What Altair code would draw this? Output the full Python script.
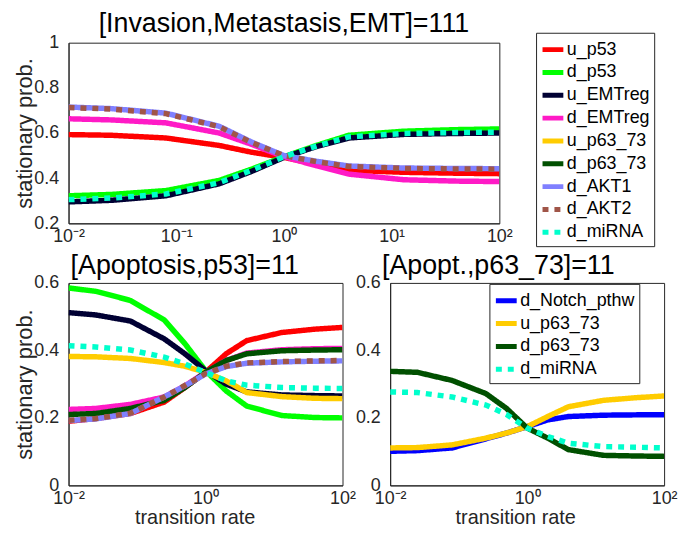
import altair as alt
import pandas as pd

X = [0.01, 0.025, 0.08, 0.25, 0.5, 1, 2, 4, 13, 40, 100]

# top panel: [Invasion,Metastasis,EMT]=111
top_u_p53 = [0.593, 0.590, 0.578, 0.545, 0.515, 0.492, 0.462, 0.435, 0.426, 0.422, 0.420]
top_d_p53 = [0.322, 0.328, 0.345, 0.390, 0.440, 0.495, 0.545, 0.590, 0.608, 0.615, 0.618]
top_u_EMTreg = [0.295, 0.302, 0.322, 0.375, 0.430, 0.492, 0.540, 0.578, 0.594, 0.598, 0.600]
top_d_EMTreg = [0.663, 0.658, 0.645, 0.600, 0.550, 0.495, 0.455, 0.418, 0.393, 0.387, 0.385]
top_d_AKT1 = [0.715, 0.708, 0.688, 0.630, 0.560, 0.500, 0.475, 0.454, 0.445, 0.443, 0.442]
top_d_AKT2 = [0.713, 0.706, 0.686, 0.628, 0.558, 0.500, 0.473, 0.452, 0.443, 0.441, 0.440]
top_d_miRNA = [0.305, 0.312, 0.330, 0.380, 0.435, 0.495, 0.542, 0.583, 0.598, 0.602, 0.604]

# bottom left: [Apoptosis,p53]=11
bl_u_p53 = [0.190, 0.198, 0.213, 0.247, 0.290, 0.335, 0.390, 0.429, 0.453, 0.463, 0.468]
bl_d_p53 = [0.585, 0.575, 0.548, 0.490, 0.420, 0.340, 0.280, 0.235, 0.207, 0.201, 0.200]
bl_u_EMTreg = [0.512, 0.505, 0.487, 0.434, 0.390, 0.340, 0.300, 0.277, 0.268, 0.266, 0.265]
bl_d_EMTreg = [0.225, 0.228, 0.240, 0.262, 0.295, 0.335, 0.370, 0.392, 0.402, 0.405, 0.406]
bl_u_p63_73 = [0.382, 0.381, 0.376, 0.364, 0.353, 0.335, 0.310, 0.275, 0.263, 0.258, 0.257]
bl_d_p63_73 = [0.210, 0.213, 0.228, 0.252, 0.290, 0.335, 0.370, 0.390, 0.399, 0.401, 0.402]
bl_d_AKT1 = [0.192, 0.197, 0.213, 0.262, 0.295, 0.330, 0.352, 0.362, 0.366, 0.368, 0.369]
bl_d_AKT2 = [0.193, 0.198, 0.214, 0.262, 0.296, 0.331, 0.353, 0.363, 0.367, 0.369, 0.370]
bl_d_miRNA = [0.414, 0.410, 0.401, 0.380, 0.360, 0.335, 0.310, 0.297, 0.290, 0.288, 0.287]

# bottom right: [Apopt.,p63_73]=11
br_d_Notch_pthw = [0.101, 0.103, 0.111, 0.138, 0.155, 0.174, 0.194, 0.204, 0.208, 0.209, 0.209]
br_u_p63_73 = [0.111, 0.112, 0.120, 0.140, 0.155, 0.174, 0.204, 0.233, 0.252, 0.260, 0.265]
br_d_p63_73 = [0.338, 0.335, 0.311, 0.272, 0.228, 0.170, 0.140, 0.106, 0.089, 0.087, 0.086]
br_d_miRNA = [0.277, 0.275, 0.262, 0.238, 0.210, 0.170, 0.145, 0.125, 0.115, 0.113, 0.111]

COLOR = {
    "u_p53": "#ff0000", "d_p53": "#00ff00", "u_EMTreg": "#000033",
    "d_EMTreg": "#ff1ac6", "u_p63_73": "#ffcc00", "d_p63_73": "#005000",
    "d_AKT1": "#8080ff", "d_AKT2": "#a05548", "d_miRNA": "#00ffcc",
    "d_Notch_pthw": "#0000ff",
}
DOT = [6, 6]
SOLID = [1, 0]
DASH = {n: SOLID for n in COLOR}
DASH["d_AKT2"] = DOT
DASH["d_miRNA"] = DOT

FONT = "Liberation Sans"
XLABEL = ("round(log(datum.value)/LN10) == -2 ? '10⁻²' : round(log(datum.value)/LN10) == -1 ? '10⁻¹' : "
          "round(log(datum.value)/LN10) == 0 ? '10⁰' : round(log(datum.value)/LN10) == 1 ? '10¹' : '10²'")


def long_df(series):
    rows = []
    for name, vals in series.items():
        for i, (x, y) in enumerate(zip(X, vals)):
            rows.append({"series": name, "x": x, "y": y, "k": i})
    return pd.DataFrame(rows)


def panel(series, names, title, ydom, yticks, xticks, w, h, xtitle, ytitle, legend, title_dx=0, xtitle_x=None):
    df = long_df(series)
    colors = [COLOR[n] for n in names]
    dashes = [DASH[n] for n in names]
    xaxis_kw = dict(values=xticks, labelExpr=XLABEL, title=xtitle, labelFlush=False, labelOverlap=False)
    if xtitle_x is not None:
        xaxis_kw["titleX"] = xtitle_x
    layers = []
    for n in series:
        layers.append(
            alt.Chart(df).transform_filter(alt.datum.series == n).mark_line(
                strokeWidth=5.5, strokeCap="butt", clip=True
            ).encode(
                x=alt.X("x:Q", scale=alt.Scale(type="log", domain=[0.01, 100], nice=False),
                        axis=alt.Axis(**xaxis_kw), title=xtitle),
                y=alt.Y("y:Q", scale=alt.Scale(domain=ydom, nice=False, zero=False),
                        axis=alt.Axis(values=yticks, format=".1~f", title=ytitle), title=ytitle),
                color=alt.Color("series:N", scale=alt.Scale(domain=names, range=colors), legend=legend),
                strokeDash=alt.StrokeDash("series:N", scale=alt.Scale(domain=names, range=dashes), legend=legend),
                order=alt.Order("k:Q"),
            )
        )
    t = alt.TitleParams(title, fontSize=27, font=FONT, fontWeight="normal", color="black",
                        offset=-6, anchor="middle", dx=title_dx, frame="group")
    return alt.layer(*layers).properties(width=w, height=h, title=t)


def make_legend(lx, ly):
    return alt.Legend(orient="none", legendX=lx, legendY=ly, title=None, symbolType="stroke",
                      symbolSize=440, symbolStrokeWidth=5, labelFontSize=18,
                      labelFont=FONT, labelColor="black", strokeColor="#262626", fillColor="white",
                      padding=4, rowPadding=0, labelOffset=1, titlePadding=0)


top_names = ["u_p53", "d_p53", "u_EMTreg", "d_EMTreg", "u_p63_73", "d_p63_73", "d_AKT1", "d_AKT2", "d_miRNA"]
top_series = {
    "u_p53": top_u_p53, "d_p53": top_d_p53, "u_EMTreg": top_u_EMTreg, "d_EMTreg": top_d_EMTreg,
    "d_AKT1": top_d_AKT1, "d_AKT2": top_d_AKT2, "d_miRNA": top_d_miRNA,
}
top = panel(top_series, top_names, "[Invasion,Metastasis,EMT]=111", [0.2, 1], [0.2, 0.4, 0.6, 0.8, 1],
            [0.01, 0.1, 1, 10, 100], 434, 182, None, "stationary prob.", make_legend(471, -10))

bl_series = {
    "u_p53": bl_u_p53, "d_p53": bl_d_p53, "u_EMTreg": bl_u_EMTreg, "d_EMTreg": bl_d_EMTreg,
    "u_p63_73": bl_u_p63_73, "d_p63_73": bl_d_p63_73, "d_AKT1": bl_d_AKT1, "d_AKT2": bl_d_AKT2,
    "d_miRNA": bl_d_miRNA,
}
bl = panel(bl_series, top_names, "[Apoptosis,p53]=11", [0, 0.6], [0, 0.2, 0.4, 0.6], [0.01, 1, 100],
           276, 204, "transition rate", "stationary prob.", None, title_dx=-21, xtitle_x=127)

br_names = ["d_Notch_pthw", "u_p63_73", "d_p63_73", "d_miRNA"]
br_series = {"d_Notch_pthw": br_d_Notch_pthw, "u_p63_73": br_u_p63_73,
             "d_p63_73": br_d_p63_73, "d_miRNA": br_d_miRNA}
br = panel(br_series, br_names, "[Apopt.,p63_73]=11", [0, 0.6], [0, 0.2, 0.4, 0.6], [0.01, 1, 100],
           276, 204, "transition rate", None, make_legend(100, 1), title_dx=-29, xtitle_x=126)

bottom = alt.hconcat(bl, br, spacing=48, bounds="flush").resolve_scale(
    color="independent", strokeDash="independent")

chart = alt.vconcat(top, bottom, spacing=60, bounds="flush", background="white",
                    padding={"left": 5, "top": 0, "right": 0, "bottom": 0}).resolve_scale(
    color="independent", strokeDash="independent"
).configure_axis(
    labelFont=FONT, labelFontSize=18, labelColor="#262626", titleFont=FONT,
    titleFontWeight="normal", titleColor="#262626", grid=False, ticks=False, domainColor="#262626",
).configure_axisX(titleFontSize=20, titlePadding=0, labelPadding=4
).configure_axisY(titleFontSize=22, titlePadding=-3, labelPadding=10
).configure_view(stroke="#262626", strokeWidth=1)

chart.save("out.html", embed_options={"renderer": "svg", "actions": False})
